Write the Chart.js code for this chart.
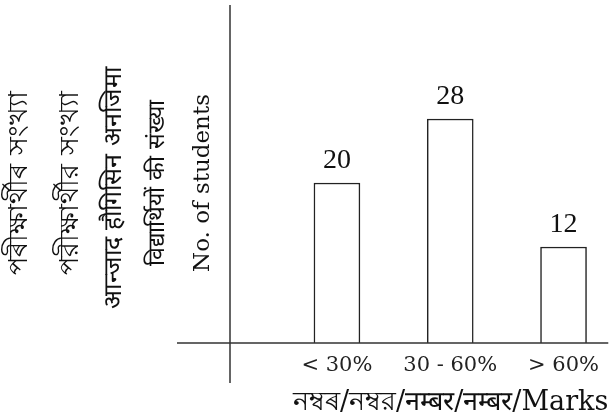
<!DOCTYPE html>
<html>
<head>
<meta charset="utf-8">
<script src="https://cdn.jsdelivr.net/npm/chart.js@4"></script>
<style>
  html, body { margin: 0; padding: 0; background: #fff; }
  #wrap { width: 609px; height: 420px; }
</style>
</head>
<body>
<div id="wrap"><canvas id="marksChart" width="609" height="420"></canvas></div>
<script>
// data
const categories = ['< 30%', '30 - 60%', '> 60%'];
const studentCounts = [20, 28, 12];
const yTitles = [
  'পৰীক্ষাৰ্থীৰ সংখ্যা',
  'পরীক্ষার্থীর সংখ্যা',
  'आन्जाद हौगिसिन अनजिमा',
  'विद्यार्थियों की संख्या',
  'No. of students'
];
const xTitle = 'নম্বৰ/নম্বর/नम्बर/नम्बर/Marks';

const serif = '"DejaVu Serif", "Liberation Serif", serif';

// crossing axis lines, both run a bit past each other
const axisLines = {
  id: 'axisLines',
  afterDraw(chart) {
    const ctx = chart.ctx;
    const area = chart.chartArea;
    const y0 = chart.scales.y.getPixelForValue(0);
    ctx.save();
    ctx.strokeStyle = '#333';
    ctx.lineWidth = 1.5;
    ctx.beginPath();
    ctx.moveTo(area.left - 53, y0);
    ctx.lineTo(area.right, y0);
    ctx.moveTo(area.left, area.top);
    ctx.lineTo(area.left, y0 + 40);
    ctx.stroke();
    ctx.restore();
  }
};

// value above each bar
const barValues = {
  id: 'barValues',
  afterDatasetsDraw(chart) {
    const ctx = chart.ctx;
    const meta = chart.getDatasetMeta(0);
    ctx.save();
    ctx.fillStyle = '#111';
    ctx.font = '28px "Liberation Serif", serif';
    ctx.textAlign = 'center';
    ctx.textBaseline = 'bottom';
    meta.data.forEach((bar, i) => {
      ctx.fillText(String(studentCounts[i]), bar.x, bar.y - 8);
    });
    ctx.restore();
  }
};

// the five rotated y titles, side by side
const sideTitles = {
  id: 'sideTitles',
  afterDraw(chart) {
    const ctx = chart.ctx;
    const xs = [20, 71, 114, 158, 203];
    const ys = [183, 183, 188, 183, 183];
    const sizes = [27, 27, 25, 23, 23];
    ctx.save();
    ctx.fillStyle = '#111';
    ctx.textAlign = 'center';
    ctx.textBaseline = 'middle';
    yTitles.forEach((t, i) => {
      ctx.save();
      ctx.translate(xs[i], ys[i]);
      ctx.rotate(-Math.PI / 2);
      ctx.font = sizes[i] + 'px ' + serif;
      ctx.fillText(t, 0, 0);
      ctx.restore();
    });
    ctx.restore();
  }
};

new Chart(document.getElementById('marksChart'), {
  type: 'bar',
  data: {
    datasets: [{
      data: categories.map((c, i) => ({ x: i + 1, y: studentCounts[i] })),
      backgroundColor: '#fff',
      borderColor: '#222',
      borderWidth: 1.5,
      barThickness: 46
    }]
  },
  options: {
    responsive: false,
    animation: false,
    layout: { padding: { left: 230, top: 5, right: 0, bottom: 0 } },
    plugins: {
      legend: { display: false },
      tooltip: { enabled: false }
    },
    scales: {
      x: {
        type: 'linear',
        offset: false,
        min: 0.056,
        max: 3.395,
        grid: { display: false, drawTicks: false, offset: false },
        border: { display: false },
        afterBuildTicks: s => { s.ticks = categories.map((c, i) => ({ value: i + 1 })); },
        afterFit: s => { s.height = 77; },
        ticks: {
          padding: 10,
          color: '#222',
          font: { family: serif, size: 21 },
          callback: v => categories[v - 1]
        },
        title: {
          display: true,
          text: xTitle,
          align: 'end',
          color: '#111',
          font: { family: serif, size: 27 },
          padding: { top: 0, bottom: 1 }
        }
      },
      y: {
        display: false,
        min: 0,
        max: 42.25
      }
    }
  },
  plugins: [axisLines, barValues, sideTitles]
});
</script>
</body>
</html>
